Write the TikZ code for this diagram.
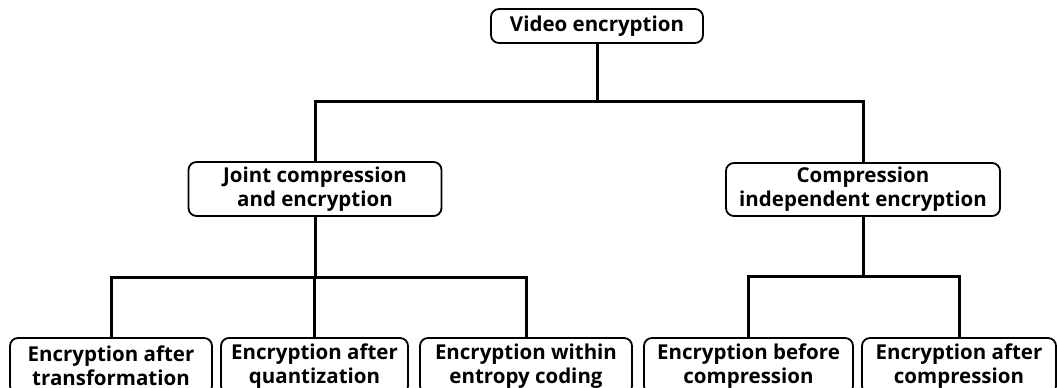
\documentclass[tikz,border=0pt]{standalone}
\usepackage{fontspec}
\setmainfont{Open Sans}
\begin{document}
\begin{tikzpicture}[x=1pt,y={(0pt,-1pt)},
  box/.style={draw=black, line width=1.8pt, rounded corners=8pt, fill=white,
    align=center, inner sep=0pt, font=\fontsize{20.5}{24}\selectfont\bfseries},
  link/.style={draw=black, line width=3pt}]
\clip (0,0) rectangle (1057,388);
\useasboundingbox (0,0) rectangle (1057,388);
% nodes
\node[box, minimum width=212pt, minimum height=34pt] (top) at (597,26) {Video encryption};
\node[box, minimum width=253pt, minimum height=54pt] (jce) at (315,189) {Joint compression\\and encryption};
\node[box, minimum width=274pt, minimum height=53pt] (cie) at (863,189.5) {Compression\\independent encryption};
\node[box, minimum width=202pt, minimum height=56pt] (b1) at (111,366) {Encryption after\\transformation};
\node[box, minimum width=187pt, minimum height=56pt] (b2) at (314.5,366) {Encryption after\\quantization};
\node[box, minimum width=212pt, minimum height=56pt] (b3) at (526,366) {Encryption within\\entropy coding};
\node[box, minimum width=209pt, minimum height=56pt] (b4) at (748.5,366) {Encryption before\\compression};
\node[box, minimum width=194pt, minimum height=56pt] (b5) at (959,366) {Encryption after\\compression};
% junctions
\coordinate (j0) at (597,101);
\coordinate (j1) at (315,277);
\coordinate (j2) at (863,276);
% connectors
\draw[link] (top.south) -- (j0);
\draw[link] (jce.north) |- (j0) -| (cie.north);
\draw[link] (jce.south) -- (j1);
\draw[link] (b1.north) |- (j1) -| (b3.north);
\draw[link] (b2.north) -- (b2.north |- j1);
\draw[link] (cie.south) -- (j2);
\draw[link] (b4.north) |- (j2) -| (b5.north);
\end{tikzpicture}
\end{document}
